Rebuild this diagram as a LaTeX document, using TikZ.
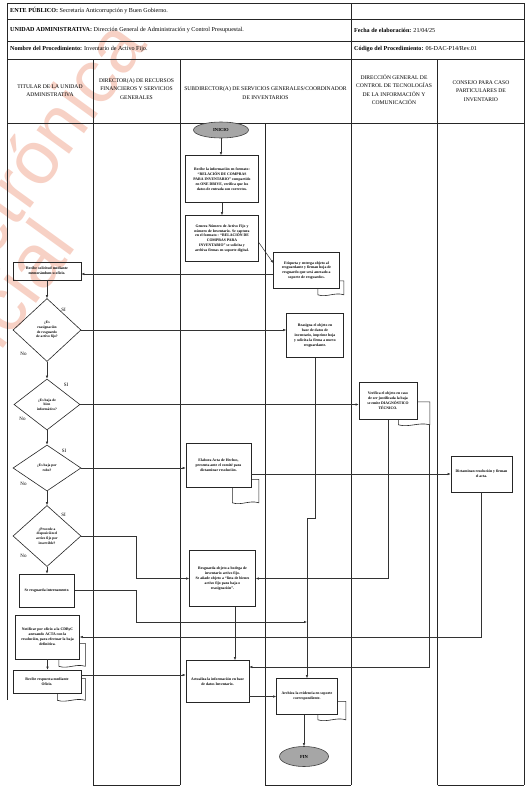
\documentclass[tikz,border=0pt]{standalone}
\usepackage{fontspec}
\setmainfont{Liberation Serif}
\newfontfamily\wmfont{Liberation Sans}
\usetikzlibrary{shapes.geometric,arrows.meta,calc}
\definecolor{wmc}{RGB}{236,140,110}
\newcommand{\dtail}[5]{%
  \draw[tailst] ($(#1.south east)+(0,-#3)$) -- ++(#2,0) -- ++(0,{#3+#4})
   .. controls +({-0.35*(#2+#5)},-3) and +({0.35*(#2+#5)},3) .. ++({-(#2+#5)},0)
   -- ($(#1.south east)+(-#5,0)$);}
\begin{document}
\begin{tikzpicture}[x=1pt,y=-1pt,
  frame/.style={line width=0.8pt, draw=black!85},
  box/.style={draw=black!85, line width=0.6pt, align=center, inner sep=0.5pt, font=\fontsize{3.8}{4.9}\selectfont\bfseries},
  dec/.style={diamond, draw=black!85, line width=0.6pt, align=center, inner sep=0pt, font=\fontsize{3.6}{4.6}\selectfont\bfseries},
  term/.style={ellipse, draw=black!75, fill=black!35, line width=0.6pt, inner sep=0pt, font=\fontsize{4.6}{5}\selectfont\bfseries},
  arr/.style={-{Latex[length=3pt,width=2.4pt]}, line width=0.5pt, draw=black!80},
  tailst/.style={line width=0.6pt, draw=black!85},
  lbl/.style={font=\fontsize{5}{5}\selectfont, inner sep=0pt},
  hdr/.style={font=\fontsize{6.1}{7}\selectfont, inner sep=0pt, anchor=west},
  colh/.style={font=\fontsize{5.6}{8.3}\selectfont, align=center, inner sep=0pt},
  wm/.style={font=\wmfont\fontsize{76}{76}\selectfont, text=wmc, opacity=0.4, inner sep=0pt, rotate=54, anchor=base east}
]
\useasboundingbox (0,0) rectangle (526,788);
\fill[white] (0,0) rectangle (526,788);

% watermark
\node[wm] (w1) at (149,45) {Publicación electrónica};
\node[wm] (w2) at (78,246) {sin validez oficial};

% header table
\draw[frame] (7,3) rectangle (524,123);
\draw[frame] (7,19) -- (524,19);
\draw[frame] (7,41) -- (524,41);
\draw[frame] (7,59) -- (524,59);
\draw[frame] (351,3) -- (351,59);
% lanes
\draw[frame] (7,123) -- (7,700);
\draw[frame] (93,59) -- (93,785);
\draw[frame] (180,59) -- (180,785);
\draw[frame] (265,123) -- (265,785);
\draw[frame] (351,59) -- (351,785);
\draw[frame] (437.5,59) -- (437.5,785);
\draw[frame] (524,123) -- (524,785);
\draw[frame] (93,785) -- (180,785);
\draw[frame] (265,785) -- (351,785);
\draw[frame] (437.5,785) -- (524,785);

\node[hdr] (h1) at (10,11) {\textbf{ENTE PÚBLICO:} Secretaría Anticorrupción y Buen Gobierno.};
\node[hdr] (h2) at (10,30.5) {\textbf{UNIDAD ADMINISTRATIVA:} Dirección General de Administración y Control Presupuestal.};
\node[hdr] (h3) at (10,49.5) {\textbf{Nombre del Procedimiento:} Inventario de Activo Fijo.};
\node[hdr] (h4) at (354,30.5) {\textbf{Fecha de elaboración:} 21/04/25};
\node[hdr] (h5) at (354,49.5) {\textbf{Código del Procedimiento:} 06-DAC-P14/Rev.01};

\node[colh] (c1) at (50,90.5) {TITULAR DE LA UNIDAD\\ADMINISTRATIVA};
\node[colh] (c2) at (136.5,89) {DIRECTOR(A) DE RECURSOS\\FINANCIEROS Y SERVICIOS\\GENERALES};
\node[colh] (c3) at (265.5,93) {SUBDIRECTOR(A) DE SERVICIOS GENERALES/COORDINADOR\\DE INVENTARIOS};
\node[colh] (c4) at (394,89.5) {DIRECCIÓN GENERAL DE\\CONTROL DE TECNOLOGÍAS\\DE LA INFORMACIÓN Y\\COMUNICACIÓN};
\node[colh] (c5) at (481,91) {CONSEJO PARA CASO\\PARTICULARES DE\\INVENTARIO};

% nodes
\node[term, minimum width=55pt, minimum height=16pt] (ini) at (221,130) {INICIO};
\node[box, minimum width=73pt, minimum height=47pt] (b1) at (222,179) {Recibe la información en formato:\\“RELACIÓN DE COMPRAS\\PARA INVENTARIO” compartido\\en ONE DRIVE, verifica que los\\datos de entrada son correctos.};
\node[box, minimum width=73pt, minimum height=46pt] (b2) at (222,238.5) {Genera Número de Activo Fijo y\\número de Inventario. Se captura\\en el formato : “RELACIÓN DE\\COMPRAS PARA\\INVENTARIO” se solicita y\\archiva firmas en soporte digital.};
\node[box, minimum width=66pt, minimum height=36pt] (b3) at (306.5,270.5) {Etiqueta y entrega objeto al\\resguardante y firman hoja de\\resguardo que será anexado a\\soporte de resguardos.};
\node[box, minimum width=68pt, minimum height=18pt] (r1) at (47,271) {Recibe solicitud mediante\\memorándum u oficio.};
\node[dec, minimum width=68pt, minimum height=63pt] (d1) at (47,330) {¿Es\\reasignación\\de resguardo\\de activo fijo?};
\node[dec, minimum width=66pt, minimum height=51pt] (d2) at (47,404.5) {¿Es baja de\\bien\\informático?};
\node[dec, minimum width=68pt, minimum height=46pt] (d3) at (47,468) {¿Es baja por\\robo?};
\node[dec, minimum width=68pt, minimum height=61pt] (d4) at (47,536) {¿Procede a\\disposición el\\activo fijo por\\inservible?};
\node[box, minimum width=55pt, minimum height=33pt] (b9) at (47,590.5) {Se resguarda internamente.};
\node[box, minimum width=64pt, minimum height=44pt] (b10) at (47.5,637) {Notificar por oficio a la CDByC\\anexando ACTA con la\\resolución, para efectuar la baja\\definitiva.};
\node[box, minimum width=68pt, minimum height=23pt] (b11) at (47,681.5) {Recibe respuesta mediante\\Oficio.};
\node[box, minimum width=57pt, minimum height=44pt] (b4) at (315,335.5) {Reasigna el objeto en\\base de datos de\\inventario, imprime hoja\\y solicita la firma a nuevo\\resguardante.};
\node[box, minimum width=58pt, minimum height=37pt] (b5) at (388,401) {Verifica el objeto en caso\\de ser justificada la baja\\se emite DIAGNÓSTICO\\TÉCNICO.};
\node[box, minimum width=65pt, minimum height=44pt] (b6) at (218.5,465.5) {Elabora Acta de Hechos,\\presenta ante el comité para\\dictaminar resolución.};
\node[box, minimum width=61pt, minimum height=36pt] (b7) at (481.5,474) {Dictaminan resolución y firman\\el acta.};
\node[box, minimum width=66pt, minimum height=56pt] (b8) at (222.5,578.5) {Resguarda objeto a bodega de\\inventario activo fijo.\\Se añade objeto a “lista de bienes\\activo fijo para baja o\\reasignación”.};
\node[box, minimum width=63pt, minimum height=42pt] (b12) at (217.5,681.5) {Actualiza la información en base\\de datos Inventario.};
\node[box, minimum width=61pt, minimum height=36pt] (b13) at (307,696.5) {Archiva la evidencia en soporte\\correspondiente.};
\node[term, minimum width=49pt, minimum height=20pt] (fin) at (304,756.5) {FIN};

% document tails
\dtail{b3}{4}{8}{6}{22}
\dtail{b5}{12.5}{18}{5}{19}
\dtail{b6}{7.5}{8.5}{15}{19}
\dtail{b10}{5.5}{16}{7}{21}
\dtail{b11}{4}{15}{7}{24}
\dtail{b13}{8}{13.5}{5}{20}

% labels
\node[lbl] (s1) at (63.5,310) {SI};
\node[lbl] (n1) at (23.5,353.5) {No};
\node[lbl] (s2) at (66,385) {SI};
\node[lbl] (n2) at (22.5,418.5) {No};
\node[lbl] (s3) at (64,451) {SI};
\node[lbl] (n3) at (23.5,483.5) {No};
\node[lbl] (s4) at (63.5,515) {SI};
\node[lbl] (n4) at (23.5,555.5) {No};

% helper coordinates
\coordinate (m9) at (0,622);
\coordinate (m11) at (0,675);
\coordinate (c20) at (235,0);
\coordinate (t5) at (429.5,424.5);

% connectors
\draw[arr] (ini) -- (ini |- b1.north);
\draw[arr] (b1) -- (b2);
\draw[arr] ($(b2.east)+(0,4)$) -- ($(b3.west)+(0,-7.5)$);
\draw[arr] ($(b3.west)+(0,3.5)$) -- ($(r1.east)+(0,3)$);
\draw[arr] (r1) -- (d1);
\draw[arr] (d1.east) -- (d1.east -| b4.west);
\draw[arr] (d1) -- (d2);
\draw[arr] (d2.east) -- (d2.east -| b5.west);
\draw[arr] (d2) -- (d3);
\draw[arr] (d3.east) -- (d3.east -| b6.west);
\draw[arr] (b6.east |- b7.west) -- (b7.west);
\draw[arr] (d3) -- (d4);
\draw[arr] (d4) -- (b9);
\draw[arr] (d4.east) -- ++(55,0) |- (b8.west);
\draw[arr] (b4.south) -- ++(0,160) -| (b13.north);
\draw[arr] (b9.east) -- ++(61,0) |- (b13.north |- m9);
\draw[arr] (b5.south) |- (b8.east);
\draw[arr] (t5) |- ($(b12.east)+(0,-14.5)$);
\draw[arr] (b7.south) |- (b10.east);
\draw[arr] (b8.south -| c20) -- (b12.north -| c20);
\draw[arr] (b10.south) -- (b10.south |- b11.north);
\draw[arr] (b11.east |- m11) -- (b12.west |- m11);
\draw[arr] (b12.east |- b13.west) -- (b13.west);
\draw[arr] (b13.south -| fin.north) -- (fin.north);
\end{tikzpicture}
\end{document}
